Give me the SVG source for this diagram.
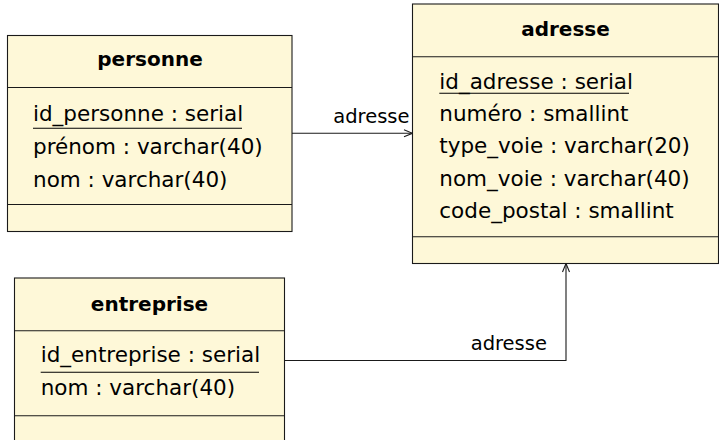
<svg xmlns="http://www.w3.org/2000/svg" width="719" height="440" viewBox="0 0 719 440">
<style>
.box{fill:#FEF8D8;stroke:#1a1a1a;stroke-width:1.1}
.sep{stroke:#1a1a1a;stroke-width:1.1}
.title{font-family:"DejaVu Sans",sans-serif;font-weight:bold;font-size:20px;fill:#000;text-anchor:middle}
.attr{font-family:"DejaVu Sans",sans-serif;font-size:21.5px;fill:#000}
.lbl{font-family:"DejaVu Sans",sans-serif;font-size:19.5px;fill:#000}
.ul{stroke:#000;stroke-width:1.1}
.conn{fill:none;stroke:#1a1a1a;stroke-width:1.1}
</style>
<defs>
<marker id="open" viewBox="0 0 10 10" refX="9.5" refY="5" markerWidth="10" markerHeight="10" markerUnits="userSpaceOnUse" orient="auto">
<path d="M1,1.5 L9.5,5 L1,8.5" fill="none" stroke="#1a1a1a" stroke-width="1.1"/>
</marker>
</defs>
<g id="personne">
<rect class="box" x="7.5" y="35.5" width="284.5" height="196"/>
<line class="sep" x1="7.5" y1="87.5" x2="292" y2="87.5"/>
<line class="sep" x1="7.5" y1="204.5" x2="292" y2="204.5"/>
<text class="title" x="150" y="66">personne</text>
<text class="attr" x="33" y="120.5">id_personne : serial</text>
<line class="ul" x1="33" y1="128.3" x2="242" y2="128.3"/>
<text class="attr" x="33" y="153.8">prénom : varchar(40)</text>
<text class="attr" x="33" y="187">nom : varchar(40)</text>
</g>
<g id="adresse">
<rect class="box" x="412.5" y="4" width="306" height="259.5"/>
<line class="sep" x1="412.5" y1="56.7" x2="718.5" y2="56.7"/>
<line class="sep" x1="412.5" y1="236.7" x2="718.5" y2="236.7"/>
<text class="title" x="565.5" y="36">adresse</text>
<text class="attr" x="439.3" y="89">id_adresse : serial</text>
<line class="ul" x1="439.3" y1="93.3" x2="629" y2="93.3"/>
<text class="attr" x="439.3" y="121">numéro : smallint</text>
<text class="attr" x="439.3" y="153.3">type_voie : varchar(20)</text>
<text class="attr" x="439.3" y="185.5">nom_voie : varchar(40)</text>
<text class="attr" x="439.3" y="217.5">code_postal : smallint</text>
</g>
<g id="entreprise">
<rect class="box" x="14.5" y="278" width="270" height="170"/>
<line class="sep" x1="14.5" y1="330.7" x2="284.5" y2="330.7"/>
<line class="sep" x1="14.5" y1="415.8" x2="284.5" y2="415.8"/>
<text class="title" x="149.5" y="310.7">entreprise</text>
<text class="attr" x="40.7" y="361.7">id_entreprise : serial</text>
<line class="ul" x1="40.7" y1="372.3" x2="259" y2="372.3"/>
<text class="attr" x="40.7" y="395">nom : varchar(40)</text>
</g>
<g id="connectors">
<path class="conn" d="M292,133.3 L412.5,133.3" marker-end="url(#open)"/>
<text class="lbl" x="333.3" y="123.3">adresse</text>
<path class="conn" d="M284.5,360.5 L566,360.5 L566,263.5" marker-end="url(#open)"/>
<text class="lbl" x="470.7" y="350">adresse</text>
</g>
</svg>
